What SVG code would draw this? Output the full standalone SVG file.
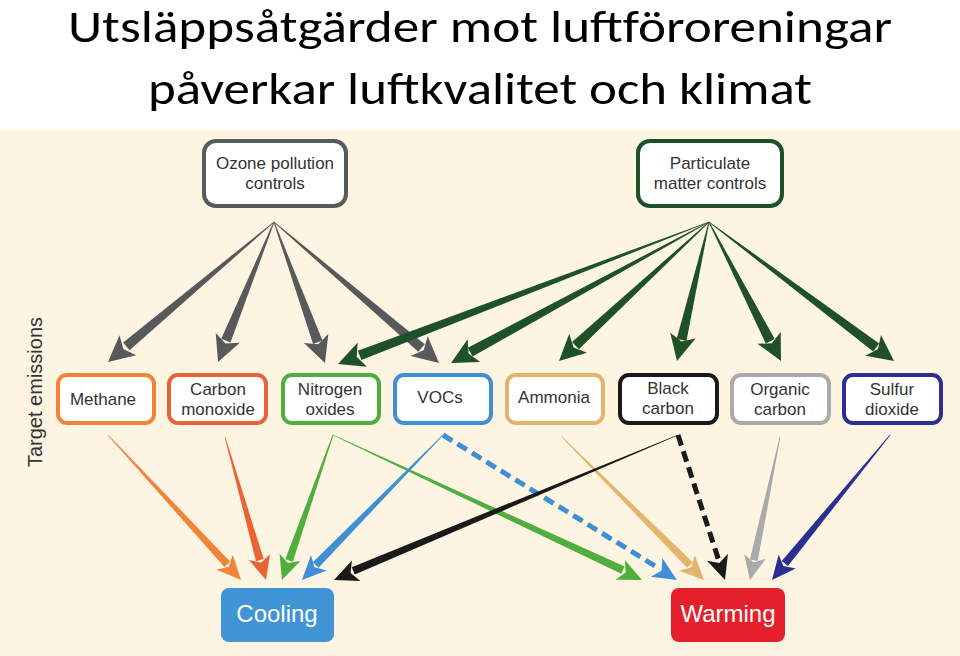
<svg xmlns="http://www.w3.org/2000/svg" xmlns:xlink="http://www.w3.org/1999/xlink" width="960" height="656" viewBox="0 0 960 656">
<style>
.t{font-family:"Liberation Sans",Arial,sans-serif;font-size:17px;fill:#333;text-anchor:middle}
.title{font-family:Carlito,"Liberation Sans",sans-serif;font-size:46px;fill:#000;text-anchor:middle}
.box{fill:#fff;stroke-width:4}
.big{font-family:"Liberation Sans",Arial,sans-serif;font-size:24px;fill:#fff;text-anchor:middle}
</style>
<defs>
<polygon id="body" points="0,-0.4 1,-5 1,5 0,0.4"/>
<polygon id="bodys" points="0,-0.4 1,-4 1,4 0,0.4"/>
<polygon id="head" points="-26,-13 0,0 -26,13 -20,0"/>
<polygon id="heads" points="-24,-11 0,0 -24,11 -18,0"/>
</defs>
<rect x="0" y="0" width="960" height="656" fill="#fff"/>
<rect x="0" y="130" width="960" height="526" fill="#fdf4e2"/>
<text class="title" x="480" y="42" textLength="824" lengthAdjust="spacingAndGlyphs">Utsläppsåtgärder mot luftföroreningar</text>
<text class="title" x="480" y="104" textLength="664" lengthAdjust="spacingAndGlyphs">påverkar luftkvalitet och klimat</text>
<text class="t" transform="translate(42,392) rotate(-90)" style="font-size:20px">Target emissions</text>

<g id="connectors">
<g fill="#58595b">
<use xlink:href="#body" transform="translate(274,222) rotate(139.9) scale(193,1)"/><use xlink:href="#head" transform="translate(108,362) rotate(139.9)"/>
<use xlink:href="#body" transform="translate(274,222) rotate(112.1) scale(128,1)"/><use xlink:href="#head" transform="translate(218,362) rotate(112.1)"/>
<use xlink:href="#body" transform="translate(274,222) rotate(70) scale(128,1)"/><use xlink:href="#head" transform="translate(325,363) rotate(70)"/>
<use xlink:href="#body" transform="translate(274,222) rotate(40.5) scale(194,1)"/><use xlink:href="#head" transform="translate(439,363) rotate(40.5)"/>
</g>
<g fill="#1e5128">
<use xlink:href="#body" transform="translate(709,222) rotate(159.1) scale(374,1)"/><use xlink:href="#head" transform="translate(338,364) rotate(159.1)"/>
<use xlink:href="#body" transform="translate(709,222) rotate(151.4) scale(272,1)"/><use xlink:href="#head" transform="translate(451,363) rotate(151.4)"/>
<use xlink:href="#body" transform="translate(709,222) rotate(137.2) scale(182,1)"/><use xlink:href="#head" transform="translate(559,361) rotate(137.2)"/>
<use xlink:href="#body" transform="translate(709,222) rotate(103.1) scale(121,1)"/><use xlink:href="#head" transform="translate(677,361) rotate(103.1)"/>
<use xlink:href="#body" transform="translate(709,222) rotate(62.8) scale(134,1)"/><use xlink:href="#head" transform="translate(781,361) rotate(62.8)"/>
<use xlink:href="#body" transform="translate(709,222) rotate(36.87) scale(209,1)"/><use xlink:href="#head" transform="translate(894,361) rotate(36.87)"/>
</g>
<use xlink:href="#bodys" fill="#f0843a" transform="translate(108,435) rotate(47.3) scale(176,1)"/><use xlink:href="#heads" fill="#f0843a" transform="translate(241,580) rotate(47.3)"/>
<use xlink:href="#bodys" fill="#ea6336" transform="translate(225,437) rotate(74.2) scale(128,1)"/><use xlink:href="#heads" fill="#ea6336" transform="translate(266,580) rotate(74.2)"/>
<use xlink:href="#bodys" fill="#50ae3e" transform="translate(333,435) rotate(109.3) scale(133,1)"/><use xlink:href="#heads" fill="#50ae3e" transform="translate(282,580) rotate(109.3)"/>
<use xlink:href="#bodys" fill="#50ae3e" transform="translate(333,435) rotate(25) scale(320,1)"/><use xlink:href="#heads" fill="#50ae3e" transform="translate(642,580) rotate(25)"/>
<use xlink:href="#bodys" fill="#3f8fd6" transform="translate(443,435) rotate(134.4) scale(182,1)"/><use xlink:href="#heads" fill="#3f8fd6" transform="translate(302,580) rotate(134.4)"/>
<line x1="443" y1="435" x2="660" y2="569" stroke="#3f8fd6" stroke-width="5" stroke-dasharray="11 6"/><use xlink:href="#heads" fill="#3f8fd6" transform="translate(677,580) rotate(31.5)"/>
<use xlink:href="#bodys" fill="#e3b56c" transform="translate(562,437) rotate(45) scale(181,1)"/><use xlink:href="#heads" fill="#e3b56c" transform="translate(704,580) rotate(45)"/>
<use xlink:href="#bodys" fill="#1a1a1a" transform="translate(678,435) rotate(157.3) scale(352,1)"/><use xlink:href="#heads" fill="#1a1a1a" transform="translate(334,580) rotate(157.3)"/>
<line x1="678" y1="435" x2="719" y2="561" stroke="#1a1a1a" stroke-width="5" stroke-dasharray="11 6"/><use xlink:href="#heads" fill="#1a1a1a" transform="translate(725,580) rotate(71.8)"/>
<use xlink:href="#bodys" fill="#aaaaaa" transform="translate(780,437) rotate(102) scale(126,1)"/><use xlink:href="#heads" fill="#aaaaaa" transform="translate(750,580) rotate(102)"/>
<use xlink:href="#bodys" fill="#2b2f92" transform="translate(890,435) rotate(129.3) scale(166,1)"/><use xlink:href="#heads" fill="#2b2f92" transform="translate(772,580) rotate(129.3)"/>
</g>

<g id="ozone"><rect class="box" x="204" y="141" width="142" height="65" rx="12" stroke="#58595b" stroke-width="5"/><text class="t" x="275" y="169">Ozone pollution</text><text class="t" x="275" y="189">controls</text></g>
<g id="pm"><rect class="box" x="638" y="141" width="144" height="65" rx="12" stroke="#1e5128" stroke-width="5"/><text class="t" x="710" y="169">Particulate</text><text class="t" x="710" y="189">matter controls</text></g>

<g id="methane"><rect class="box" x="58" y="375" width="96" height="48" rx="9" stroke="#f0843a"/><text class="t" x="103" y="405">Methane</text></g>
<g id="co"><rect class="box" x="169" y="375" width="97" height="48" rx="9" stroke="#ea6336"/><text class="t" x="218" y="395">Carbon</text><text class="t" x="218" y="415">monoxide</text></g>
<g id="nox"><rect class="box" x="283" y="375" width="96" height="48" rx="9" stroke="#50ae3e"/><text class="t" x="330" y="395">Nitrogen</text><text class="t" x="330" y="415">oxides</text></g>
<g id="vocs"><rect class="box" x="395" y="375" width="96" height="48" rx="9" stroke="#3f8fd6"/><text class="t" x="440" y="403">VOCs</text></g>
<g id="ammonia"><rect class="box" x="507" y="375" width="96" height="48" rx="9" stroke="#e3b56c"/><text class="t" x="554" y="403">Ammonia</text></g>
<g id="bc"><rect class="box" x="620" y="375" width="97" height="48" rx="9" stroke="#1a1a1a"/><text class="t" x="668" y="394">Black</text><text class="t" x="668" y="414">carbon</text></g>
<g id="oc"><rect class="box" x="732" y="375" width="97" height="48" rx="9" stroke="#aaaaaa"/><text class="t" x="780" y="395">Organic</text><text class="t" x="780" y="415">carbon</text></g>
<g id="so2"><rect class="box" x="844" y="375" width="97" height="48" rx="9" stroke="#2b2f92"/><text class="t" x="892" y="395">Sulfur</text><text class="t" x="892" y="415">dioxide</text></g>

<g id="cooling"><rect x="221" y="588" width="113" height="54" rx="8" fill="#3f95d6"/><text class="big" x="277" y="622">Cooling</text></g>
<g id="warming"><rect x="671" y="588" width="114" height="54" rx="8" fill="#e3202b"/><text class="big" x="728" y="622">Warming</text></g>
</svg>
